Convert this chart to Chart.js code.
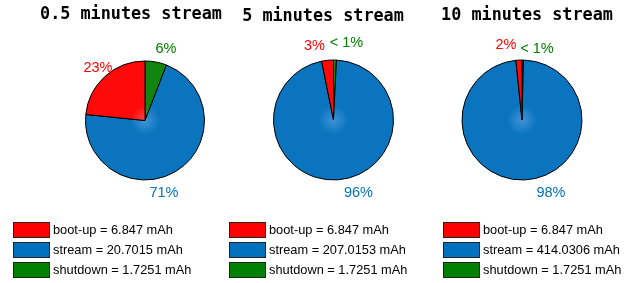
<!DOCTYPE html>
<html>
<head>
<meta charset="utf-8">
<script src="https://cdn.jsdelivr.net/npm/chart.js@4.4.1/dist/chart.umd.min.js"></script>
<style>
  html, body { margin: 0; padding: 0; background: #ffffff; }
  #wrap { position: relative; width: 630px; height: 283px; overflow: hidden; background: #ffffff; }
  #wrap canvas { position: absolute; left: 0; top: 0; }
</style>
</head>
<body>
<div id="wrap">
  <canvas id="c0" width="630" height="283"></canvas>
  <canvas id="c1" width="630" height="283"></canvas>
  <canvas id="c2" width="630" height="283"></canvas>
</div>
<script>
// ---- data ----
const categories = ['boot-up', 'stream', 'shutdown'];
const chartTitles = ['0.5 minutes stream', '5 minutes stream', '10 minutes stream'];
const bootup = [6.847, 6.847, 6.847];
const stream = [20.7015, 207.0153, 414.0306];
const shutdown = [1.7251, 1.7251, 1.7251];

// ---- styles / layout ----
const sliceColors = ['#ff0a0a', '#0a74bf', '#108510'];
const sliceCenterColors = ['#ff4a4a', '#3e94d6', '#34a034'];
const legendColors = ['#ff0000', '#0072bd', '#008000'];
const labelColors = ['#ff0000', '#0072bd', '#008000'];
const layouts = [
  { cx: 145,   cy: 120.5, r: 59.5, titleX: 131, titleY: 15, legendX: 13,
    labelOff: [[-47, -53], [19, 72], [21, -72]] },
  { cx: 333.5, cy: 120,   r: 60,   titleX: 323, titleY: 17, legendX: 229,
    labelOff: [[-19, -74], [25, 73], [13, -77.5]] },
  { cx: 522,   cy: 120,   r: 60,   titleX: 527, titleY: 16, legendX: 443,
    labelOff: [[-16, -75], [29, 73], [15, -71.5]] }
];
const W = 630, H = 283, BW = 1;

function pctLabel(v, total) {
  const p = v / total * 100;
  if (p < 1) return '< 1%';
  return Math.round(p) + '%';
}

function makeChart(i) {
  const L = layouts[i];
  const values = [bootup[i], stream[i], shutdown[i]];
  // Chart.js draws clockwise from the top; the reference runs counter-clockwise
  // (boot-up, stream, shutdown), so feed the categories in reverse order.
  const order = [2, 1, 0];
  const half = L.r + BW / 2;

  const decor = {
    id: 'decor' + i,
    afterDraw(chart) {
      const ctx = chart.ctx;
      const total = values.reduce((a, b) => a + b, 0);
      ctx.save();
      // title
      ctx.fillStyle = '#000000';
      ctx.font = 'bold 16.8px "DejaVu Sans Mono", "Liberation Mono", monospace';
      ctx.textAlign = 'center';
      ctx.textBaseline = 'middle';
      ctx.fillText(chartTitles[i], L.titleX, L.titleY);
      // percentage labels
      ctx.font = '14.5px "Liberation Sans", Arial, sans-serif';
      for (let k = 0; k < 3; k++) {
        ctx.fillStyle = labelColors[k];
        ctx.fillText(pctLabel(values[k], total), L.cx + L.labelOff[k][0], L.cy + L.labelOff[k][1]);
      }
      // legend
      ctx.textAlign = 'left';
      ctx.font = '12.8px "Liberation Sans", Arial, sans-serif';
      for (let k = 0; k < 3; k++) {
        const y = 222 + k * 20;
        ctx.fillStyle = legendColors[k];
        ctx.fillRect(L.legendX, y, 37, 16);
        ctx.strokeStyle = '#222222';
        ctx.lineWidth = 1;
        ctx.strokeRect(L.legendX + 0.5, y + 0.5, 36, 15);
        ctx.fillStyle = '#000000';
        ctx.fillText(categories[k] + ' = ' + values[k] + ' mAh', L.legendX + 40, y + 8.5);
      }
      ctx.restore();
    }
  };

  return new Chart(document.getElementById('c' + i), {
    type: 'pie',
    data: {
      labels: order.map(k => categories[k]),
      datasets: [{
        data: order.map(k => values[k]),
        backgroundColor: (c) => {
          const k = order[c.dataIndex];
          const a = c.chart.chartArea;
          if (!a) return sliceColors[k];
          const cx = (a.left + a.right) / 2, cy = (a.top + a.bottom) / 2;
          const g = c.chart.ctx.createRadialGradient(cx, cy, 0, cx, cy, L.r);
          g.addColorStop(0, sliceCenterColors[k]);
          g.addColorStop(0.25, sliceColors[k]);
          g.addColorStop(1, sliceColors[k]);
          return g;
        },
        borderColor: '#000000',
        borderWidth: BW,
        borderAlign: 'center'
      }]
    },
    options: {
      responsive: false,
      animation: false,
      events: [],
      layout: {
        padding: {
          left: L.cx - half,
          right: W - (L.cx + half),
          top: L.cy - half,
          bottom: H - (L.cy + half)
        }
      },
      plugins: {
        legend: { display: false },
        title: { display: false },
        tooltip: { enabled: false }
      }
    },
    plugins: [decor]
  });
}

[0, 1, 2].forEach(makeChart);
</script>
</body>
</html>
